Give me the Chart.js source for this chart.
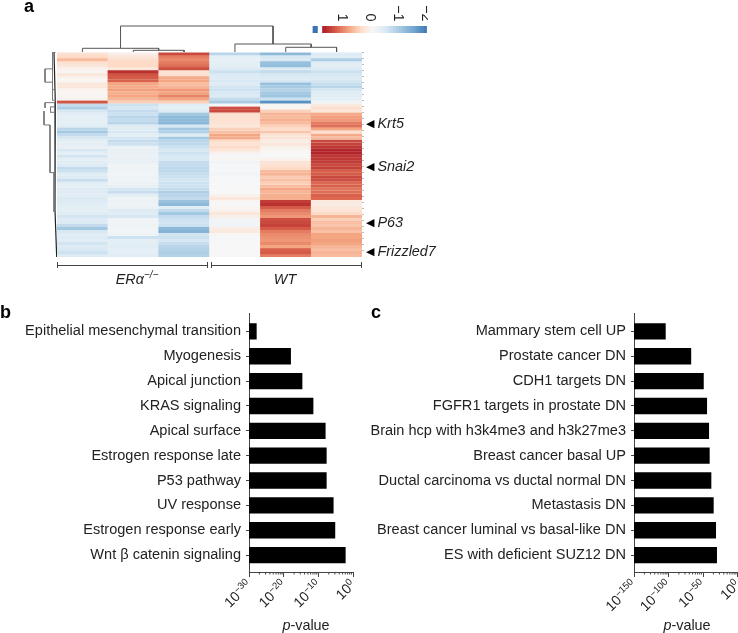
<!DOCTYPE html>
<html>
<head>
<meta charset="utf-8">
<script src="https://cdn.jsdelivr.net/npm/chart.js@4"></script>
<style>
  html, body { margin: 0; padding: 0; background: #fff; overflow: hidden; }
  body { width: 738px; height: 633px; position: relative; font-family: "Liberation Sans", sans-serif; color: #222; }
  canvas { position: absolute; }
  #heat { filter: blur(0.6px); }
  .txt { position: absolute; white-space: nowrap; font-size: 14.4px; line-height: 16px; }
  .mid { transform: translateX(-50%); }
  .panel { font-weight: bold; font-size: 18px; line-height: 18px; color: #000; }
  .gene { font-style: italic; }
  .gene span { font-style: normal; font-size: 10.5px; margin-right: 3.5px; color: #000; vertical-align: 1px; }
  .span { position: absolute; height: 6px; top: 262px; border-left: 1px solid #444; border-right: 1px solid #444; }
  .span div { height: 3px; border-bottom: 1px solid #444; }
  sup { font-size: 10px; line-height: 0; }
</style>
</head>
<body>
<canvas id="dendroTop" width="305" height="28" style="left:57px;top:24px"></canvas>
<canvas id="dendroRow" width="17" height="205" style="left:40px;top:52px"></canvas>
<canvas id="heat" width="308" height="205" style="left:57px;top:52px"></canvas>
<canvas id="colorbar" width="117" height="34" style="left:311px;top:0"></canvas>
<canvas id="chartB" width="370" height="333" style="left:0;top:300px"></canvas>
<canvas id="chartC" width="368" height="333" style="left:370px;top:300px"></canvas>

<div class="txt panel" style="left:24px;top:-3px">a</div>
<div class="txt panel" style="left:0;top:303px">b</div>
<div class="txt panel" style="left:371px;top:303px">c</div>

<div class="txt gene" style="left:366px;top:115px"><span>◀</span>Krt5</div>
<div class="txt gene" style="left:366px;top:158px"><span>◀</span>Snai2</div>
<div class="txt gene" style="left:366px;top:214px"><span>◀</span>P63</div>
<div class="txt gene" style="left:366px;top:243px"><span>◀</span>Frizzled7</div>

<div class="span" style="left:57px;width:149px"><div></div></div>
<div class="span" style="left:211px;width:149px"><div></div></div>
<div class="txt mid" style="left:137px;top:271px"><i>ERα<sup>−/−</sup></i></div>
<div class="txt mid" style="left:285px;top:271px"><i>WT</i></div>

<div class="txt mid" style="left:306px;top:617px"><i>p</i>-value</div>
<div class="txt mid" style="left:687px;top:617px"><i>p</i>-value</div>

<script>
// Heatmap, one array per sample, one value per row (top to bottom)
const sampleNames = ['ERa-1', 'ERa-2', 'ERa-3', 'WT-1', 'WT-2', 'WT-3'];
const era1 = [.4,.5,.8,.4,.3,.1,.05,.3,.1,.05,.3,.3,.1,.05,.05,.1,1.6,-.7,-.9,-.5,-.35,-.3,-.3,-.3,-.35,-.8,-1,-.7,-.5,-.3,-.3,-.25,-.5,-.3,-.55,-.3,-.35,-.4,-.7,-.6,-.35,-.4,-.65,-.35,-.3,-.4,-.4,-.35,-.45,-.4,-.35,-.3,-.3,-.35,-.55,-.4,-.45,-.7,-1,-.5,-.35,-.4,-.35,-.55,-.4,-.5,-.6,-.4];
const era2 = [.15,.3,.45,.5,.5,.3,1.9,1.6,1.55,1.5,1,.95,1.05,.9,1,.85,.6,-.6,-.5,-.7,-.6,-.8,-.7,-.8,-.4,-.35,-.5,-.3,-.55,-.7,-.6,-.2,-.25,-.25,-.2,-.25,-.25,-.1,-.15,-.15,-.1,-.15,-.15,-.2,-.25,-.55,-.65,-.3,-.15,-.2,-.15,-.2,-.4,-.35,-.5,-.1,-.1,-.15,-.1,-.1,-.15,-.6,-.3,-.3,-.35,-.3,-.3,-.35];
const era3 = [1.7,1.3,1.2,1.3,1.4,1.65,.35,.4,.95,1,.8,.85,1.1,1,1.25,1,.6,-.35,-.3,-.4,-1,-1.2,-1.2,-1.25,-.5,-1,-.85,-.4,-1,-.8,-.75,-.6,-.5,-.6,-.5,-.5,-.7,-.7,-.75,-.75,-.65,-.6,-.55,-.6,-.6,-.7,-.9,-.8,-.7,-1.1,-1.2,-.35,-.7,-1,-.7,-.6,-.55,-.6,-1.2,-1.3,-.55,-.6,-.5,-.65,-.8,-.85,-.9,-.85];
const wt1 = [-.8,-.3,-.25,-.3,-.3,-.4,-.6,-.45,-.4,-.5,-.4,-.55,-.6,-.5,-.45,-.7,-.95,0,1.65,1.7,.45,.4,.4,.38,.3,.6,.75,1,.95,.5,.35,.5,.3,.1,-.05,.05,-.1,-.05,-.05,-.05,-.1,-.05,-.05,0,-.05,0,0,.1,.3,.05,0,.05,.1,.3,.15,-.1,-.1,-.1,.2,.25,.05,-.03,-.03,0,0,0,0,0];
const wt2 = [-1.2,-.5,-.45,-1.1,-1.15,-.4,-.7,-.5,-.45,-.5,-1.1,-.95,-.85,-1,-1.05,-.6,-1.7,.05,.05,.6,.85,.8,.9,.8,.6,.5,.7,.35,.35,.2,.3,.15,.05,0,0,.1,.35,.4,.5,.8,.85,.65,.75,.6,.8,1,.85,.9,.9,1.8,1.9,1.55,1.3,1.2,1.1,1.65,1.7,1.75,1.55,1.3,1.2,1.15,1.1,1.2,1,1.5,1.55,1.3];
const wt3 = [-.4,-.35,-.9,-.35,-.3,-.4,-.6,-.5,-.45,-.55,-.65,-.8,-.5,-.35,-.35,-.3,-.15,.25,.45,.3,.95,1.05,1.1,1.3,1.4,1,.45,.95,.8,1.7,1.75,1.85,2,2,1.85,1.85,1.8,1.7,1.75,1.5,1.55,1.7,1.65,1.45,1.5,1.35,1.4,1.5,1.45,.25,.2,.3,.35,.5,.85,.6,.75,.7,.85,.75,1,1,1.05,1,.85,.75,.85,.8];
const heatSamples = [era1, era2, era3, wt1, wt2, wt3];

// Colour scale of the heatmap
const colorValues = [-2, -1.5, -1, -.5, 0, .5, 1, 1.5, 2];
const colorRamp = ['#3a73b3', '#6fa5cf', '#a3c8e2', '#d8e8f3', '#f7f7f7', '#fddbc7', '#f4a582', '#d9614c', '#b2252a'];

// Colour bar levels and its tick labels
const barLevels = [1.7,1.6,1.5,1.4,1.3,1.2,1.1,1,.9,.8,.7,.6,.5,.4,.3,.2,.1,0,-.1,-.2,-.3,-.4,-.5,-.6,-.7,-.8,-.9,-1,-1.1,-1.2,-1.3,-1.4,-1.5,-1.6,-1.7,-1.8,-1.9];
const barTicks = [1, 0, -1, -2];
const barTickLabels = ['1', '0', '−1', '−2'];

// Sample dendrogram: merges of two nodes, x in sample index, y is merge height
const mergeLeft = [1, 0, 4, 3, .75];
const mergeRight = [2, 1.5, 5, 4.5, 3.75];
const mergeHeight = [1.7, 3.7, 4.7, 8, 26];
const mergeBaseLeft = [0, 0, 0, 0, 3.7];
const mergeBaseRight = [0, 1.7, 0, 4.7, 8];

// Row dendrogram branches: height from the heatmap and row position
const branchHeight = [[1,4.5,4.5,1],[5,12,12,5],[3,4.5],[2,12,12],[2,6.5,6.5,2],[13,13,7,7,3,3]];
const branchRow = [[0,0,16,16],[5.6,5.6,10,10],[12.5,12.5],[16.8,16.8,18.5],[18.2,18.2,20,20],[19.6,24.2,24.2,40,40,53]];
const trunkHeight = [3, 1.7, 2, 2, .3];
const trunkRow = [0, 16.6, 32, 52.5, 68];

// Panel b
const hallmarkNames = ['Epithelial mesenchymal transition', 'Myogenesis', 'Apical junction', 'KRAS signaling', 'Apical surface', 'Estrogen response late', 'P53 pathway', 'UV response', 'Estrogen response early', 'Wnt β catenin signaling'];
const hallmarkP = [1.3e-28, 1e-18, 2e-15, 3e-12, 1e-8, 2e-8, 2e-8, 2e-6, 6e-6, 6e-3];
const hallmarkTicks = [1e-30, 1e-20, 1e-10, 1];
const hallmarkExponents = ['−30', '−20', '−10', '0'];

// Panel c
const signatureNames = ['Mammary stem cell UP', 'Prostate cancer DN', 'CDH1 targets DN', 'FGFR1 targets in prostate DN', 'Brain hcp with h3k4me3 and h3k27me3', 'Breast cancer basal UP', 'Ductal carcinoma vs ductal normal DN', 'Metastasis DN', 'Breast cancer luminal vs basal-like DN', 'ES with deficient SUZ12 DN'];
const signatureP = [3e-105, 2.5e-68, 4e-50, 2.5e-45, 2e-42, 1.6e-41, 4e-39, 1e-35, 2.5e-32, 6e-31];
const signatureTicks = [1e-150, 1e-100, 1e-50, 1];
const signatureExponents = ['−150', '−100', '−50', '0'];

Chart.defaults.font.family = '"Liberation Sans", sans-serif';
Chart.defaults.animation = false;
Chart.defaults.responsive = false;
Chart.defaults.plugins.legend.display = false;
Chart.defaults.plugins.tooltip.enabled = false;

function colorFor(v) {
    const clamped = Math.max(-2, Math.min(2, v));
    let i = 0;
    while (i < colorValues.length - 2 && clamped > colorValues[i + 1]) i++;
    const t = (clamped - colorValues[i]) / (colorValues[i + 1] - colorValues[i]);
    const a = colorRamp[i], b = colorRamp[i + 1];
    const mix = k => {
        const from = parseInt(a.substr(k, 2), 16), to = parseInt(b.substr(k, 2), 16);
        return Math.round(from + (to - from) * t);
    };
    return `rgb(${mix(1)},${mix(3)},${mix(5)})`;
}

// Heatmap as floating bars, one dataset per row
const rowCount = era1.length;
const heatRows = [];
for (let r = 0; r < rowCount; r++) {
    heatRows.push({
        data: heatSamples.map(() => [r, r + 1.06]), // small overlap hides seams
        backgroundColor: heatSamples.map(s => colorFor(s[r])),
        borderWidth: 0,
        grouped: false,
        barPercentage: 1.01,
        categoryPercentage: 1
    });
}
new Chart(document.getElementById('heat'), {
    type: 'bar',
    data: { labels: sampleNames, datasets: heatRows },
    options: {
        layout: { padding: 0 },
        scales: {
            x: { display: false },
            y: {
                position: 'right', reverse: true, min: 0, max: rowCount,
                ticks: { display: false, stepSize: 2, autoSkip: false },
                border: { display: false },
                grid: { drawOnChartArea: false, tickLength: 2, tickColor: '#bbb' },
                afterFit: s => { s.width = 3; }
            }
        }
    }
});

// Sample dendrogram
const hiddenAxis = (min, max, reverse) => ({ type: 'linear', display: false, min, max, reverse });
new Chart(document.getElementById('dendroTop'), {
    type: 'scatter',
    data: {
        datasets: mergeHeight.map((h, i) => ({
            data: [
                { x: mergeLeft[i], y: mergeBaseLeft[i] },
                { x: mergeLeft[i], y: h },
                { x: mergeRight[i], y: h },
                { x: mergeRight[i], y: mergeBaseRight[i] }
            ],
            showLine: true, pointRadius: 0, borderColor: '#555', borderWidth: 1
        }))
    },
    options: { scales: { x: hiddenAxis(-.5, 5.5), y: hiddenAxis(0, 28) } }
});

// Row dendrogram
const branchSets = branchHeight.map((hs, i) => ({
    data: hs.map((h, k) => ({ x: h, y: branchRow[i][k] })),
    showLine: true, pointRadius: 0, borderColor: '#777', borderWidth: 1
}));
branchSets.push({
    data: trunkHeight.map((h, k) => ({ x: h, y: trunkRow[k] })),
    showLine: true, pointRadius: 0, borderColor: '#222', borderWidth: 1.2
});
new Chart(document.getElementById('dendroRow'), {
    type: 'scatter',
    data: { datasets: branchSets },
    options: { scales: { x: hiddenAxis(0, 17, true), y: hiddenAxis(0, rowCount, true) } }
});

// Colour bar: the red end of the legend stops at 1.7
const barStep = .1;
const barSets = barLevels.map(v => ({
    data: [[v, v - barStep - .02]],
    backgroundColor: colorFor(v > 0 ? v / .85 : v),
    borderWidth: 0, grouped: false, barPercentage: 1, categoryPercentage: 1
}));
barSets.push({
    data: [[2.04, 1.88]], backgroundColor: '#3a73b3',
    borderWidth: 0, grouped: false, barPercentage: 1, categoryPercentage: 1
});
const barLabelPlugin = {
    id: 'barLabels',
    afterDraw(chart) {
        const ctx = chart.ctx, xs = chart.scales.x;
        ctx.save();
        ctx.fillStyle = '#222';
        ctx.font = '14.4px "Liberation Sans"';
        ctx.textAlign = 'right';
        ctx.textBaseline = 'middle';
        barTicks.forEach((t, i) => {
            ctx.save();
            ctx.translate(xs.getPixelForValue(t), 21.5);
            ctx.rotate(Math.PI / 2);
            ctx.fillText(barTickLabels[i], 0, 0);
            ctx.restore();
        });
        ctx.restore();
    }
};
new Chart(document.getElementById('colorbar'), {
    type: 'bar',
    data: { labels: ['z-score'], datasets: barSets },
    plugins: [barLabelPlugin],
    options: {
        indexAxis: 'y',
        layout: { padding: { top: 26, bottom: 1 } },
        scales: {
            x: { type: 'linear', display: false, reverse: true, min: -2.07, max: 2.11 },
            y: { display: false }
        }
    }
});

// Horizontal p-value bars on a log axis
function pValueChart(id, names, values, tickValues, exponents, axisLeft, padRight) {
    // minor ticks and the 10^n labels, which the axis cannot set as superscripts
    const logAxisExtras = {
        id: 'logAxisExtras',
        afterDraw(chart) {
            const ctx = chart.ctx, xs = chart.scales.x, y0 = chart.chartArea.bottom;
            ctx.save();
            ctx.strokeStyle = '#444';
            ctx.lineWidth = 1;
            for (let i = 0; i + 1 < tickValues.length; i++) {
                const lo = Math.log10(tickValues[i]), hi = Math.log10(tickValues[i + 1]);
                for (let k = 2; k < 10; k++) {
                    const px = xs.getPixelForValue(Math.pow(10, lo + (hi - lo) * Math.log10(k)));
                    ctx.beginPath();
                    ctx.moveTo(px, y0);
                    ctx.lineTo(px, y0 + 2.5);
                    ctx.stroke();
                }
            }
            ctx.fillStyle = '#222';
            ctx.textBaseline = 'alphabetic';
            tickValues.forEach((t, i) => {
                ctx.save();
                ctx.translate(xs.getPixelForValue(t) + 0.5, y0 + 11);
                ctx.rotate(-Math.PI / 4);
                ctx.font = '9.5px "Liberation Sans"';
                const expWidth = ctx.measureText(exponents[i]).width;
                ctx.textAlign = 'right';
                ctx.fillText(exponents[i], 0, -1);
                ctx.font = '14px "Liberation Sans"';
                ctx.fillText('10', -expWidth, 4);
                ctx.restore();
            });
            ctx.restore();
        }
    };
    return new Chart(document.getElementById(id), {
        type: 'bar',
        data: {
            datasets: [{
                data: values.map((v, i) => ({ x: v, y: i })),
                backgroundColor: '#000',
                barThickness: 15.7
            }]
        },
        plugins: [logAxisExtras],
        options: {
            indexAxis: 'y',
            layout: { padding: { top: 13, right: padRight, bottom: 0, left: 0 } },
            scales: {
                x: {
                    type: 'logarithmic', min: tickValues[0], max: tickValues[tickValues.length - 1],
                    border: { color: '#444' },
                    grid: { drawOnChartArea: false, tickLength: 5, tickColor: '#444' },
                    afterBuildTicks: s => { s.ticks = tickValues.map(value => ({ value })); },
                    ticks: { display: false },
                    afterFit: s => { s.height = 61; s.paddingLeft = 0; s.paddingRight = 0; }
                },
                y: {
                    type: 'linear', reverse: true, min: -.71, max: 9.68, offset: false,
                    border: { color: '#444' },
                    grid: { offset: false, drawOnChartArea: false, tickLength: 3, tickColor: '#444' },
                    afterBuildTicks: s => { s.ticks = names.map((n, i) => ({ value: i })); },
                    ticks: {
                        autoSkip: false, padding: 5, color: '#222', font: { size: 14.55 },
                        callback: v => names[v]
                    },
                    afterFit: s => { s.width = axisLeft; }
                }
            }
        }
    });
}

pValueChart('chartB', hallmarkNames, hallmarkP, hallmarkTicks, hallmarkExponents, 249, 17);
pValueChart('chartC', signatureNames, signatureP, signatureTicks, signatureExponents, 264, 0.5);
</script>
</body>
</html>
